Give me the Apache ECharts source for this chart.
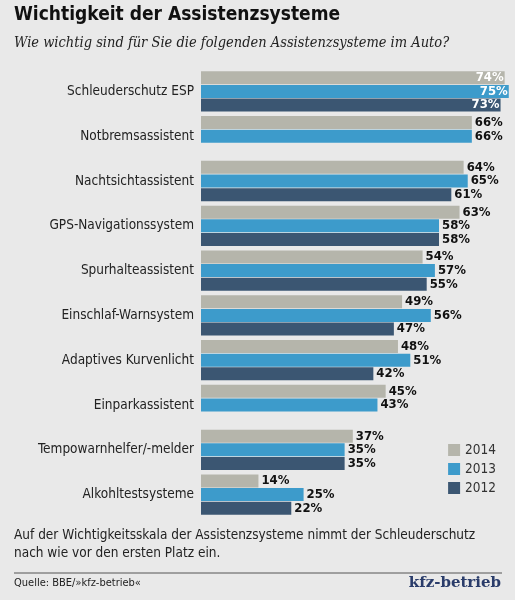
<!DOCTYPE html><html><head><meta charset="utf-8">
<script src="https://cdn.jsdelivr.net/npm/echarts@6/dist/echarts.min.js"></script>
<style>html,body{margin:0;padding:0;background:#e9e9e9}#c{width:515px;height:600px}</style></head><body><div id="c"></div>
<script>
const categories=["Schleuderschutz ESP","Notbremsassistent","Nachtsichtassistent","GPS-Navigationssystem","Spurhalteassistent","Einschlaf-Warnsystem","Adaptives Kurvenlicht","Einparkassistent","Tempowarnhelfer/-melder","Alkohltestsysteme"];
const v2014=[74,66,64,63,54,49,48,45,37,14];
const v2013=[75,66,65,58,57,56,51,43,35,25];
const v2012=[73,null,61,58,55,47,42,null,35,22];
const years=["2014","2013","2012"];
const colors=["#b5b5ab","#3d9bcb","#3b5672"];
const F="'DejaVu Sans Condensed','Liberation Sans Narrow',sans-serif";
function mk(arr){return arr.map((v,i)=>i===0?{value:v,label:{position:'insideRight',color:'#fff',offset:[2,0]}}:v);}
const series=[v2014,v2013,v2012].map((d,k)=>({
 name:years[k],type:'bar',data:mk(d),itemStyle:{color:colors[k]},barWidth:13,barGap:'5%',
 label:{show:true,position:'right',distance:3,formatter:p=>p.value==null?'':p.value+'%',fontFamily:F,fontWeight:'bold',fontSize:13,color:'#111'}
}));
const ch=echarts.init(document.getElementById('c'));
ch.setOption({
 backgroundColor:'#e9e9e9',animation:false,
 grid:{left:201,top:69,width:309,height:448,containLabel:false},
 xAxis:{type:'value',min:0,max:75.3,show:false},
 yAxis:{type:'category',inverse:true,data:categories,axisLine:{show:false},axisTick:{show:false},
  axisLabel:{fontFamily:F,fontSize:13.5,color:'#222',margin:7}},
 legend:{orient:'vertical',right:14,top:438,itemWidth:12,itemHeight:12,itemGap:5,icon:'rect',
  textStyle:{fontFamily:F,fontSize:13.5,color:'#333'},data:years},
 series,
 graphic:[
  {type:'text',left:14,top:6,style:{text:'Wichtigkeit der Assistenzsysteme',font:"bold 19px 'DejaVu Sans Condensed',sans-serif",fill:'#111'}},
  {type:'text',left:14,top:36,style:{text:'Wie wichtig sind für Sie die folgenden Assistenzsysteme im Auto?',font:"italic 14.5px 'DejaVu Serif Condensed','DejaVu Serif',serif",fill:'#222'}},
  {type:'text',left:14,top:526,style:{text:'Auf der Wichtigkeitsskala der Assistenzsysteme nimmt der Schleuderschutz\nnach wie vor den ersten Platz ein.',font:"13.5px "+F,fill:'#222',lineHeight:18}},
  {type:'line',shape:{x1:14,y1:573,x2:502,y2:573},style:{stroke:'#555',lineWidth:1}},
  {type:'text',left:14,top:578,style:{text:'Quelle: BBE/»kfz-betrieb«',font:"11px "+F,fill:'#222'}},
  {type:'text',right:14,top:576,style:{text:'kfz-betrieb',font:"bold 15px 'DejaVu Serif',serif",fill:'#2a3c6a'}}
 ]
});
</script></body></html>
